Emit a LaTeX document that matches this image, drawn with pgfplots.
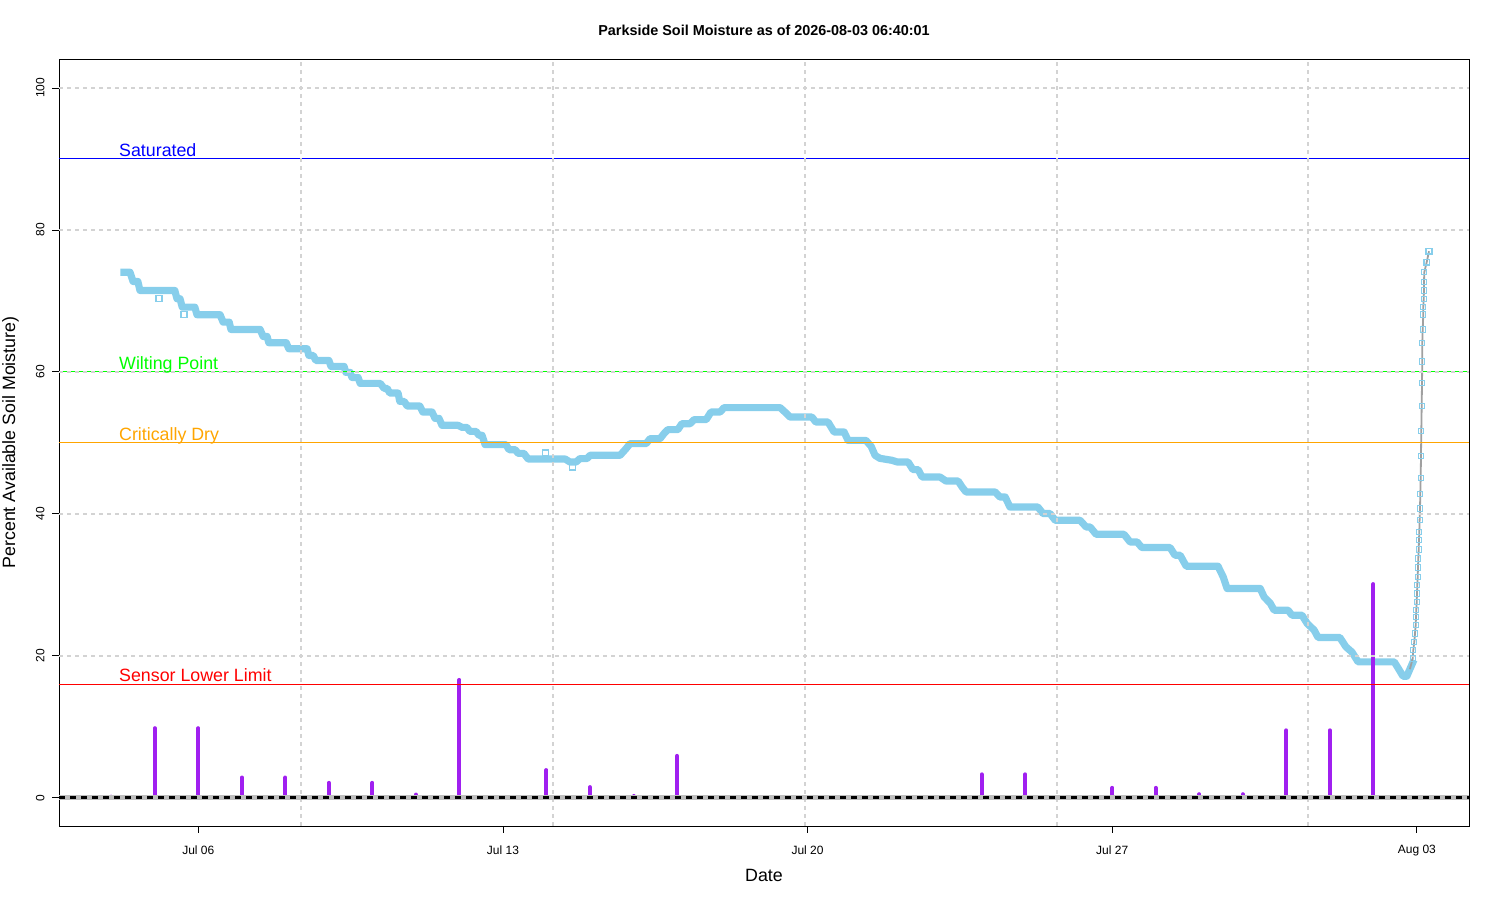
\documentclass[border=0pt]{standalone}
\usepackage{pgfplots}
\pgfplotsset{compat=1.18}
\usepackage{fontspec}
\setmainfont{Liberation Sans}
\definecolor{skyb}{RGB}{135,206,235}
\definecolor{rpurple}{RGB}{160,32,240}
\definecolor{rgreen}{RGB}{0,255,0}
\definecolor{rorange}{RGB}{255,165,0}
\definecolor{rblue}{RGB}{0,0,255}
\definecolor{rred}{RGB}{255,0,0}
\definecolor{lgray}{RGB}{211,211,211}
\definecolor{zgray}{RGB}{190,190,190}
\definecolor{sgray}{RGB}{160,160,160}
\tikzset{gridl/.style={lgray, line width=2pt, dash pattern=on 4pt off 4pt}}
\begin{document}
\begin{tikzpicture}[x=1pt,y=1pt]
\useasboundingbox (0,0) rectangle (1500,900);
\draw[black, line width=0.8pt] (59,74) rectangle (1469,841);
\node[anchor=base, inner sep=0pt, font=\bfseries\fontsize{14.4}{16}\selectfont] at (764,864.8) {Parkside Soil Moisture as of 2026-08-03 06:40:01};
\node[anchor=base, inner sep=0pt, font=\fontsize{17.8}{20}\selectfont] at (764,18.6) {Date};
\node[anchor=base, rotate=90, inner sep=0pt, font=\fontsize{17.8}{20}\selectfont] at (15,457.5) {Percent Available Soil Moisture)};
\begin{axis}[
  at={(59pt,74pt)}, anchor=south west,
  scale only axis, width=1410pt, height=767pt,
  xmin=2.799, xmax=35.198, ymin=-3.98, ymax=104.08,
  axis line style={draw=none},
  tick align=outside, xtick pos=lower, ytick pos=left,
  major tick length=7pt,
  tick style={draw=black, line width=0.8pt},
  xtick={6,13,20,27,34},
  xticklabels={Jul 06,Jul 13,Jul 20,Jul 27,Aug 03},
  ytick={0,20,40,60,80,100},
  yticklabels={0,20,40,60,80,100},
  ticklabel style={font=\fontsize{12}{14}\selectfont},
  xticklabel style={yshift=-9pt},
  yticklabel style={xshift=-4pt, rotate=90, anchor=south},
  clip=true,
]
% soil moisture band
\addplot[skyb, line width=7.2pt, line cap=rect, line join=round] coordinates {
(4.29,74.04) (4.43,74.04) (4.50,72.74) (4.61,72.74) (4.66,71.47) (5.46,71.47) (5.51,70.30) (5.58,70.30) (5.63,69.12) (5.92,69.12) (5.97,68.05) (6.50,68.05) (6.57,67.01) (6.71,67.01) (6.75,65.98) (7.42,65.98) (7.49,64.99) (7.58,64.99) (7.62,64.11) (8.02,64.11) (8.08,63.26) (8.50,63.26) (8.54,62.32) (8.64,62.32) (8.70,61.61) (9.00,61.61) (9.05,60.77) (9.35,60.77) (9.39,59.93) (9.49,59.93) (9.53,59.22) (9.67,59.22) (9.72,58.38) (10.18,58.38) (10.27,57.67) (10.34,57.67) (10.40,57.01) (10.59,57.01) (10.63,55.84) (10.73,55.84) (10.80,55.18) (11.09,55.18) (11.16,54.34) (11.37,54.34) (11.44,53.45) (11.53,53.45) (11.60,52.47) (11.97,52.47) (12.06,52.18) (12.17,52.18) (12.24,51.62) (12.38,51.62) (12.45,51.06) (12.52,51.06) (12.59,49.75) (13.07,49.75) (13.14,49.04) (13.28,49.04) (13.35,48.52) (13.48,48.52) (13.58,47.72) (14.43,47.72) (14.54,47.30) (14.68,47.30) (14.77,47.78) (14.93,47.78) (15.00,48.24) (15.69,48.24) (15.83,49.19) (15.92,49.89) (16.29,49.89) (16.38,50.59) (16.61,50.59) (16.70,51.30) (16.79,51.86) (17.02,51.86) (17.11,52.70) (17.30,52.70) (17.39,53.27) (17.67,53.27) (17.78,54.34) (17.99,54.34) (18.08,54.96) (19.37,54.96) (19.48,54.34) (19.60,53.63) (20.10,53.63) (20.19,52.93) (20.47,52.93) (20.61,51.52) (20.84,51.52) (20.93,50.35) (21.34,50.35) (21.46,49.51) (21.55,48.24) (21.66,47.82) (21.94,47.54) (22.06,47.30) (22.31,47.30) (22.42,46.23) (22.54,46.23) (22.63,45.19) (23.04,45.19) (23.18,44.62) (23.46,44.62) (23.55,43.78) (23.64,43.08) (24.31,43.08) (24.42,42.37) (24.54,42.37) (24.65,40.96) (25.29,40.96) (25.41,40.04) (25.57,40.04) (25.69,39.09) (26.26,39.09) (26.40,38.15) (26.49,38.15) (26.63,37.12) (27.27,37.12) (27.41,36.04) (27.57,36.04) (27.68,35.25) (28.33,35.25) (28.44,34.17) (28.56,34.17) (28.70,32.62) (29.43,32.62) (29.55,31.11) (29.64,29.48) (30.40,29.48) (30.49,28.29) (30.63,27.41) (30.72,26.42) (31.04,26.42) (31.13,25.72) (31.36,25.72) (31.48,24.55) (31.64,23.61) (31.73,22.58) (32.23,22.58) (32.37,21.26) (32.51,20.51) (32.65,19.14) (33.48,19.14) (33.57,18.26) (33.68,17.13) (33.77,17.13) (33.84,18.12) (33.90,18.96)
};
% outlier readings
\addplot[only marks, mark=square, mark size=3pt, skyb, mark options={line width=1.3pt}] coordinates {
(5.10,70.30) (5.67,68.09) (13.97,48.55) (14.60,46.60)
};
% rapid rise
\addplot[sgray, line width=1.8pt] coordinates {
(33.84,18.12) (33.904,19.62) (33.918,20.79) (33.941,21.96) (33.957,23.14) (33.973,24.31) (33.980,25.48) (33.987,26.42) (33.996,27.59) (34.003,28.77) (34.010,29.94) (34.019,31.11) (34.026,32.43) (34.033,33.70) (34.042,34.97) (34.049,36.28) (34.056,37.44) (34.063,39.09) (34.072,40.74) (34.079,42.75) (34.088,45.10) (34.095,48.14) (34.102,51.66) (34.111,55.14) (34.118,58.42) (34.125,61.47) (34.125,64.11) (34.134,65.98) (34.148,68.09) (34.148,69.12) (34.157,70.30) (34.164,71.47) (34.164,72.64) (34.171,74.05) (34.226,75.45) (34.279,77.00)
};
\addplot[only marks, mark=square, mark size=2.6pt, skyb, mark options={line width=1pt}] coordinates {
(33.904,19.62) (33.918,20.79) (33.941,21.96) (33.957,23.14) (33.973,24.31) (33.980,25.48) (33.987,26.42) (33.996,27.59) (34.003,28.77) (34.010,29.94) (34.019,31.11) (34.026,32.43) (34.033,33.70) (34.042,34.97) (34.049,36.28) (34.056,37.44) (34.063,39.09) (34.072,40.74) (34.079,42.75) (34.088,45.10) (34.095,48.14) (34.102,51.66) (34.111,55.14) (34.118,58.42) (34.125,61.47) (34.125,64.11) (34.134,65.98) (34.148,68.09) (34.148,69.12) (34.157,70.30) (34.164,71.47) (34.164,72.64) (34.171,74.05) (34.226,75.45) (34.279,77.00)
};
\addplot[only marks, mark=square, mark size=2.8pt, skyb, mark options={line width=1.6pt}] coordinates {(34.279,77.00) (34.226,75.45)};
% daily rain
\addplot[ycomb, rpurple, line width=4pt, line cap=round] coordinates {
(4,0.15) (5,9.8) (6,9.8) (7,2.85) (8,2.85) (9,2.1) (10,2.1) (11,0.45) (12,16.6) (14,3.9) (15,1.5) (16,0.25) (17,5.9) (24,3.3) (25,3.3) (27,1.4) (28,1.4) (29,0.5) (30,0.5) (31,9.5) (32,9.5) (33,30.1) (34,0.1)
};
% thresholds
\addplot[rblue, line width=1pt] coordinates {(2.799,90) (35.198,90)};
\addplot[rgreen, line width=1pt] coordinates {(2.799,60) (35.198,60)};
\addplot[rorange, line width=1pt] coordinates {(2.799,50) (35.198,50)};
\addplot[rred, line width=1pt] coordinates {(2.799,16) (35.198,16)};
% grid
\draw[gridl] (axis cs:2.799,0) -- (axis cs:35.198,0);
\draw[gridl] (axis cs:2.799,20) -- (axis cs:35.198,20);
\draw[gridl] (axis cs:2.799,40) -- (axis cs:35.198,40);
\draw[gridl] (axis cs:2.799,60) -- (axis cs:35.198,60);
\draw[gridl] (axis cs:2.799,80) -- (axis cs:35.198,80);
\draw[gridl] (axis cs:2.799,100) -- (axis cs:35.198,100);
\draw[gridl] (axis cs:8.36,-3.98) -- (axis cs:8.36,104.08);
\draw[gridl] (axis cs:14.147,-3.98) -- (axis cs:14.147,104.08);
\draw[gridl] (axis cs:19.934,-3.98) -- (axis cs:19.934,104.08);
\draw[gridl] (axis cs:25.721,-3.98) -- (axis cs:25.721,104.08);
\draw[gridl] (axis cs:31.508,-3.98) -- (axis cs:31.508,104.08);
% zero line
\addplot[zgray, line width=4.5pt] coordinates {(2.799,0) (35.198,0)};
\addplot[black, line width=2.8pt, dash pattern=on 6pt off 5pt] coordinates {(2.799,0) (35.198,0)};
% labels
\node[text=rblue, anchor=base west, inner sep=0pt, yshift=2.4pt, font=\fontsize{17.8}{20}\selectfont] at (axis cs:4.178,90) {Saturated};
\node[text=rgreen, anchor=base west, inner sep=0pt, yshift=2.4pt, font=\fontsize{17.8}{20}\selectfont] at (axis cs:4.178,60) {Wilting Point};
\node[text=rorange, anchor=base west, inner sep=0pt, yshift=2.4pt, font=\fontsize{17.8}{20}\selectfont] at (axis cs:4.178,50) {Critically Dry};
\node[text=rred, anchor=base west, inner sep=0pt, yshift=2.4pt, font=\fontsize{17.8}{20}\selectfont] at (axis cs:4.178,16) {Sensor Lower Limit};
\end{axis}
\end{tikzpicture}
\end{document}
